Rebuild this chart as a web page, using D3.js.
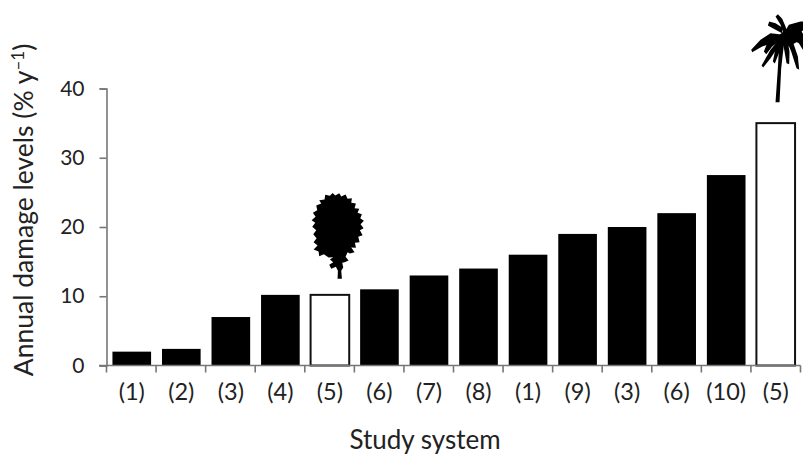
<!DOCTYPE html>
<html>
<head>
<meta charset="utf-8">
<script src="https://cdn.jsdelivr.net/npm/d3@7"></script>
<style>
  html, body { margin: 0; padding: 0; background: #fff; }
  text { font-family: Lato, "Open Sans", sans-serif; fill: #222; }
</style>
</head>
<body>
<svg id="chart" width="803" height="454">
  <defs><filter id="soft"><feGaussianBlur stdDeviation="1.2"></feGaussianBlur></filter></defs>
</svg>
<script>
var systems = ["(1)", "(2)", "(3)", "(4)", "(5)", "(6)", "(7)", "(8)", "(1)", "(9)", "(3)", "(6)", "(10)", "(5)"];
var damage = [2, 2.4, 7, 10.2, 10.2, 11, 13, 14, 16, 19, 20, 22, 27.5, 35];
var openBars = [4, 13];
var yTicks = [0, 10, 20, 30, 40];

var svg = d3.select("#chart");

var x = d3.scaleBand().domain(d3.range(systems.length)).range([107, 800.5]).paddingInner(0.22).paddingOuter(0.11);
var y = d3.scaleLinear().domain([0, 40]).range([365.5, 88.5]);

// bars
svg.selectAll(".bar")
  .data(damage)
  .enter().append("rect")
    .attr("class", "bar")
    .attr("x", function(d, i) { return x(i); })
    .attr("y", function(d) { return y(d); })
    .attr("width", x.bandwidth())
    .attr("height", function(d) { return y(0) - y(d); })
    .attr("fill", function(d, i) { return openBars.indexOf(i) >= 0 ? "#fff" : "#000"; })
    .attr("stroke", "#111")
    .attr("stroke-width", function(d, i) { return openBars.indexOf(i) >= 0 ? 2 : 0; });

// axes
var band = 694 / systems.length;
var yAxis = svg.append("g").attr("transform", "translate(106.5,0)")
  .call(d3.axisLeft(y).tickValues(yTicks).tickSize(7).tickPadding(15));
yAxis.selectAll("text").style("font-size", "21px");
yAxis.select(".domain").attr("stroke", "#777").attr("stroke-width", 1.6);
yAxis.selectAll(".tick line").attr("stroke", "#777").attr("stroke-width", 1.6);

var xAxis = svg.append("g").attr("transform", "translate(0,365.5)");
xAxis.append("line").attr("x1", 99).attr("x2", 800.5).attr("y1", 0).attr("y2", 0);
xAxis.selectAll(".tk")
  .data(d3.range(systems.length + 1))
  .enter().append("line")
    .attr("class", "tk")
    .attr("x1", function(d) { return 106.5 + d * band; })
    .attr("x2", function(d) { return 106.5 + d * band; })
    .attr("y1", 0).attr("y2", 7);
xAxis.selectAll("line").attr("stroke", "#777").attr("stroke-width", 1.6);
xAxis.selectAll(".lab")
  .data(systems)
  .enter().append("text")
    .attr("class", "lab")
    .attr("x", function(d, i) { return x(i) + x.bandwidth() / 2; })
    .attr("y", 34)
    .attr("text-anchor", "middle")
    .style("font-size", "23.5px")
    .text(function(d) { return d; });

// axis titles
svg.append("text")
  .attr("x", 425).attr("y", 449)
  .attr("text-anchor", "middle")
  .style("font-size", "26px")
  .text("Study system");

var yt = svg.append("text")
  .attr("transform", "translate(33,210) rotate(-90)")
  .attr("text-anchor", "middle")
  .style("font-size", "26.5px");
yt.append("tspan").text("Annual damage levels (% y");
yt.append("tspan").attr("dy", -9).style("font-size", "17px").text("\u20131");
yt.append("tspan").attr("dy", 9).text(")");

// tree silhouettes, traced at 3x and hung off the top of their bar
var broadleaf = "M158,38 L166,46 L178,39 L184,49 L197,43 L203,56 L216,54 L214,68 L228,70 L224,84 L238,86 L233,98 L246,102 L241,114 L252,122 L242,132 L251,144 L240,150 L248,165 L235,170 L239,186 L225,188 L228,203 L214,202 L224,216 L210,220 L203,216 L197,230 L206,241 L194,246 L187,248 L190,262 L184,272 L186,296 L173,296 L174,272 L168,260 L154,266 L148,254 L160,246 L150,238 L160,231 L146,232 L132,222 L118,228 L116,214 L101,208 L113,196 L101,186 L110,174 L100,162 L109,150 L97,140 L106,128 L95,120 L107,110 L99,98 L112,90 L109,76 L124,70 L118,60 L134,58 L136,44 L150,47 Z";
var palmParts = [
  "M165,302 L177,302 L182,200 L190,130 L176,130 L172,200 Z",
  "M168,108 L198,82 L240,88 L249,110 L205,135 L170,128 Z",
  "M190,100 L180,70 L165,45 L172,38 L185,52 L195,75 L200,95 Z",
  "M185,95 L165,85 L142,72 L146,60 L165,65 L185,78 Z",
  "M190,100 L150,95 L120,115 L92,145 L95,152 L125,135 L155,125 L190,120 Z",
  "M175,115 L150,145 L123,192 L128,198 L150,170 L180,125 Z",
  "M180,115 L165,140 L157,180 L163,186 L175,155 L190,120 Z",
  "M165,110 L140,125 L130,150 L137,158 L155,135 L175,120 Z",
  "M185,115 L192,150 L198,185 L206,188 L207,150 L200,115 Z",
  "M195,110 L212,150 L228,200 L236,205 L232,165 L215,115 Z",
  "M195,105 L235,125 L262,170 L275,180 L270,140 L240,105 Z",
  "M190,95 L205,70 L240,60 L285,60 L285,70 L250,85 L230,100 Z",
  "M195,100 L240,85 L249,100 L290,110 L290,125 L240,115 Z"
];

function hangOnBar(i, ox, oy) {
  return "translate(" + (x(i) + x.bandwidth() / 2) + "," + y(damage[i]) + ") scale(0.3333) translate(" + (-ox) + "," + (-oy) + ")";
}

svg.append("g")
  .attr("transform", hangOnBar(4, 150, 344))
  .attr("filter", "url(#soft)")
  .append("path")
    .attr("d", broadleaf)
    .attr("fill", "#000");

svg.append("g")
  .attr("transform", hangOnBar(13, 165.6, 365))
  .attr("filter", "url(#soft)")
  .selectAll("path")
  .data(palmParts)
  .enter().append("path")
    .attr("d", function(d) { return d; })
    .attr("fill", "#000");
</script>
</body>
</html>
